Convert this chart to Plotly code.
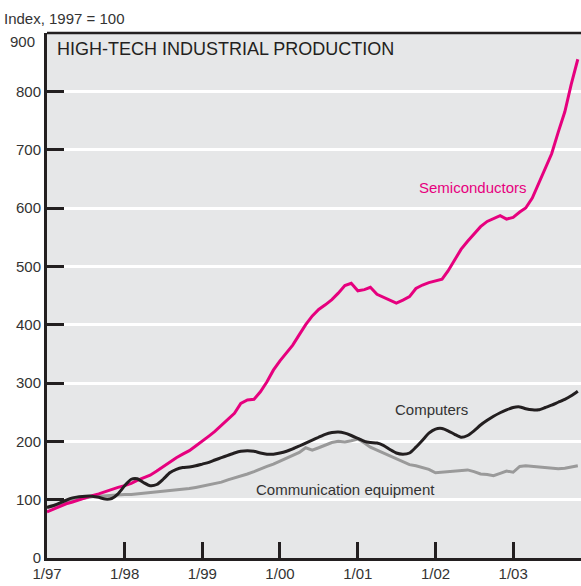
import pandas as pd
import plotly.graph_objects as go

months = pd.date_range("1997-01-01", periods=83, freq="MS")

semiconductors = [79, 84, 88, 93, 96, 100, 104, 107, 110, 114, 117, 121,
                  124, 128, 133, 137, 142, 149, 157, 164, 172, 178, 184, 192,
                  200, 209, 217, 228, 238, 248, 265, 271, 272, 285, 302, 322,
                  338, 352, 365, 383, 400, 415, 426, 434, 443, 454, 467, 471,
                  458, 460, 464, 452, 447, 442, 437, 442, 448, 462, 468, 472,
                  475, 478, 492, 510, 529, 543, 556, 568, 577, 582, 587, 581,
                  584, 593, 600, 617, 642, 668, 693, 730, 765, 812, 855]

computers = [87, 90, 94, 99, 103, 105, 106, 106, 104, 101, 102, 110,
             124, 135, 136, 129, 124, 126, 135, 146, 152, 155, 156, 158,
             161, 164, 168, 172, 176, 180, 183, 184, 183, 180, 178, 178,
             180, 183, 187, 192, 197, 202, 207, 212, 215, 216, 214, 210,
             205, 200, 198, 197, 193, 186, 180, 178, 180, 190, 202, 214,
             221, 222, 218, 212, 207, 210, 218, 228, 236, 243, 249, 254,
             258, 259, 256, 254, 254, 258, 262, 267, 272, 278, 286]

communication = [86, 89, 92, 96, 99, 101, 104, 105, 106, 107, 108, 108,
                 109, 109, 110, 111, 112, 113, 115, 116, 117, 118, 119, 121,
                 123, 125, 127, 130, 134, 137, 140, 144, 148, 153, 157, 161,
                 166, 171, 176, 181, 189, 185, 189, 194, 198, 200, 199, 201,
                 204, 197, 190, 185, 180, 175, 170, 164, 160, 158, 155, 152,
                 146, 147, 149, 149, 150, 151, 148, 144, 143, 141, 145, 149,
                 147, 157, 158, 157, 156, 155, 153, 153, 154, 156, 158]

tick_dates = ["1997-01-01", "1998-01-01", "1999-01-01", "2000-01-01",
              "2001-01-01", "2002-01-01", "2003-01-01"]
tick_labels = ["1/97", "1/98", "1/99", "1/00", "1/01", "1/02", "1/03"]
y_ticks = [0, 100, 200, 300, 400, 500, 600, 700, 800, 900]
y_tick_labels = ["0", "100", "200", "300", "400", "500", "600", "700", "800", ""]
top_label = "900"

FONT = "Liberation Sans, Arial, sans-serif"
DARK = "#231f20"
MAGENTA = "#e6007e"
GRAY = "#9a9a9a"
LABEL = "#333333"

fig = go.Figure()
fig.add_trace(go.Scatter(x=months, y=communication, mode="lines",
                         line=dict(color=GRAY, width=3)))
fig.add_trace(go.Scatter(x=months, y=semiconductors, mode="lines",
                         line=dict(color=MAGENTA, width=3)))
fig.add_trace(go.Scatter(x=months, y=computers, mode="lines",
                         line=dict(color=DARK, width=3, shape="spline", smoothing=0.6)))

fig.update_layout(
    width=581, height=586,
    margin=dict(l=47, r=0, t=33, b=28),
    paper_bgcolor="white",
    plot_bgcolor="#e6e7e8",
    showlegend=False,
    font=dict(family=FONT, size=15, color=DARK),
    xaxis=dict(
        range=["1997-01-01", "2003-11-16"],
        tickvals=tick_dates, ticktext=tick_labels,
        ticks="inside", ticklen=16, tickwidth=2.5, tickcolor=DARK,
        showgrid=False, zeroline=False,
        showline=True, linecolor=DARK, linewidth=3,
        tickfont=dict(family=FONT, size=15, color=LABEL),
    ),
    yaxis=dict(
        range=[0, 900],
        tickvals=y_ticks, ticktext=y_tick_labels,
        ticks="inside", ticklen=17, tickwidth=2.5, tickcolor=DARK,
        showgrid=True, gridcolor="white", gridwidth=3,
        zeroline=False,
        showline=True, linecolor=DARK, linewidth=3,
        tickfont=dict(family=FONT, size=15, color=LABEL),
    ),
    shapes=[dict(type="line", xref="paper", yref="paper", x0=0, x1=1, y0=1, y1=1,
                 line=dict(color=DARK, width=2.5))],
    annotations=[
        dict(text="Index, 1997 = 100", xref="paper", yref="paper", x=-45/534, y=1.0,
             xanchor="left", yanchor="bottom", yshift=4, showarrow=False,
             font=dict(family=FONT, size=15, color=LABEL)),
        dict(text=top_label, xref="paper", yref="y", x=-10/534, y=900,
             xanchor="right", yanchor="middle", yshift=-8, showarrow=False,
             font=dict(family=FONT, size=15, color=LABEL)),
        dict(text="HIGH-TECH INDUSTRIAL PRODUCTION", xref="paper", yref="paper",
             x=8/534, y=1.0, xanchor="left", yanchor="top", yshift=-4, showarrow=False,
             font=dict(family=FONT, size=18, color=DARK)),
        dict(text="Semiconductors", x="2002-06-25", y=636, showarrow=False,
             font=dict(family=FONT, size=15, color=MAGENTA)),
        dict(text="Computers", x="2001-12-15", y=255, showarrow=False,
             font=dict(family=FONT, size=15, color=LABEL)),
        dict(text="Communication equipment", x="2000-11-04", y=118, showarrow=False,
             font=dict(family=FONT, size=15, color=LABEL)),
    ],
)

fig.write_html("out.html", config={"displayModeBar": False},
               post_script="document.body.style.margin='0';")
